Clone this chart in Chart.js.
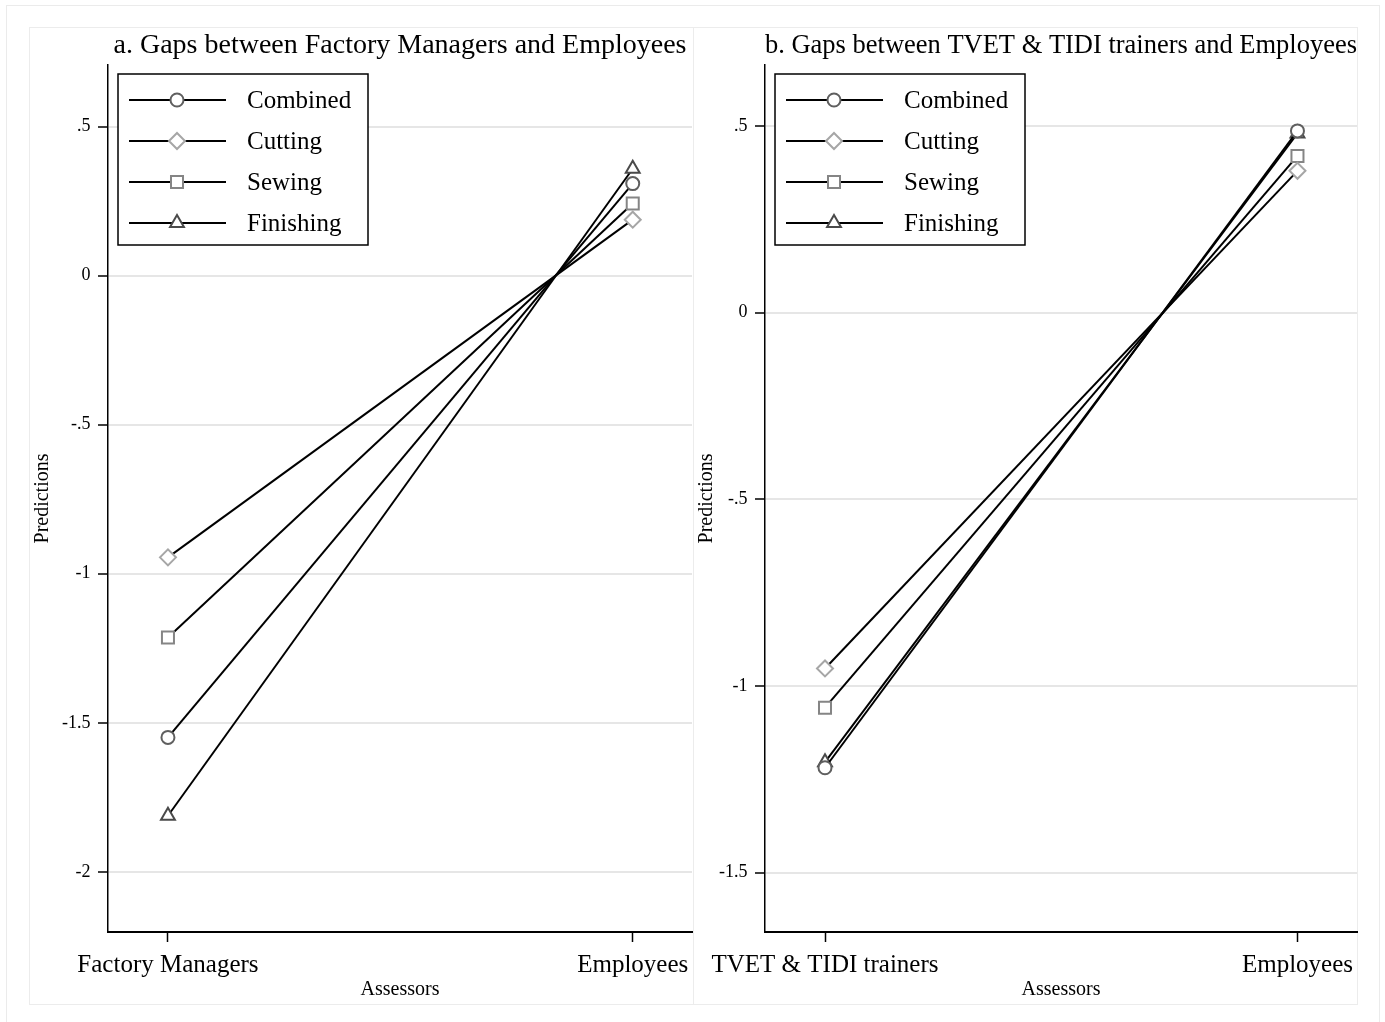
<!DOCTYPE html>
<html><head><meta charset="utf-8">
<script src="https://cdn.jsdelivr.net/npm/chart.js@4"></script>
<style>
html,body{margin:0;padding:0;background:#fff;}
body{width:1385px;height:1022px;position:relative;overflow:hidden;}
#outer{position:absolute;left:6px;top:5px;width:1374px;height:1040px;border:1px solid #ebebeb;box-sizing:border-box;}
.panel{position:absolute;top:27px;height:978px;border:1px solid #ececec;box-sizing:border-box;}
canvas{position:absolute;}
</style></head><body>
<div id="outer"></div>
<div class="panel" style="left:29px;width:665px"></div>
<div class="panel" style="left:693px;width:665px"></div>
<canvas id="ca" style="left:29px;top:27px;width:690px;height:976px" width="690" height="976"></canvas>
<canvas id="cb" style="left:693px;top:27px;width:692px;height:976px" width="692" height="976"></canvas>
<script>
const seriesNames = ['Combined','Cutting','Sewing','Finishing'];
const panelAGroups = ['Factory Managers','Employees'];
const panelBGroups = ['TVET & TIDI trainers','Employees'];
const panelAFirst = [-1.549,-0.945,-1.214,-1.812];
const panelAEmployees = [0.309,0.188,0.242,0.359];
const panelBFirst = [-1.219,-0.953,-1.058,-1.204];
const panelBEmployees = [0.487,0.380,0.420,0.480];
const yTicksA = [0.5,0,-0.5,-1,-1.5,-2];
const yTicksB = [0.5,0,-0.5,-1,-1.5];

const markerStyles = ['circle','rectRot','rect','triangle'];
const markerColors = ['#5f5f5f','#a6a6a6','#858585','#4a4a4a'];
const markerRadii = [6.5,8,8.5,8];
const FONT = '"Liberation Serif", "Times New Roman", serif';

function fmt(v){
  if (v === 0) return '0';
  return (v < 0 ? '-' : '') + String(Math.abs(v)).replace(/^0\./, '.');
}

function drawMarker(ctx, style, r, x, y){
  if (Chart.helpers && Chart.helpers.drawPoint){
    Chart.helpers.drawPoint(ctx, {pointStyle: style, radius: r, borderWidth: 2, rotation: 0}, x, y);
    return;
  }
  ctx.beginPath();
  if (style === 'circle') ctx.arc(x, y, r, 0, Math.PI*2);
  else if (style === 'rect'){ const s = r*Math.SQRT1_2; ctx.rect(x-s, y-s, 2*s, 2*s); }
  else if (style === 'rectRot'){ ctx.moveTo(x, y-r); ctx.lineTo(x+r, y); ctx.lineTo(x, y+r); ctx.lineTo(x-r, y); ctx.closePath(); }
  else { ctx.moveTo(x, y-r); ctx.lineTo(x+r*0.866, y+r/2); ctx.lineTo(x-r*0.866, y+r/2); ctx.closePath(); }
  ctx.fill(); ctx.stroke();
}

const boxLegend = {
  id: 'boxLegend',
  afterDraw(chart){
    const ctx = chart.ctx, a = chart.chartArea;
    const bx = a.left + 10, by = a.top + 9, bw = 250, bh = 171;
    ctx.save();
    ctx.fillStyle = '#fff'; ctx.fillRect(bx, by, bw, bh);
    ctx.strokeStyle = '#000'; ctx.lineWidth = 1.5; ctx.strokeRect(bx, by, bw, bh);
    chart.data.datasets.forEach((ds, i) => {
      const y = by + 26 + i*41;
      ctx.beginPath(); ctx.moveTo(bx+11, y); ctx.lineTo(bx+108, y);
      ctx.strokeStyle = '#000'; ctx.lineWidth = 2; ctx.stroke();
      ctx.fillStyle = '#fff'; ctx.strokeStyle = ds.pointBorderColor; ctx.lineWidth = 2;
      drawMarker(ctx, ds.pointStyle, ds.pointRadius, bx+59, y);
      ctx.fillStyle = '#000'; ctx.font = '25px ' + FONT;
      ctx.textBaseline = 'middle'; ctx.textAlign = 'left';
      ctx.fillText(ds.label, bx+129, y + 1);
    });
    ctx.restore();
  }
};

function makeChart(id, groups, first, second, yTicks, yMin, yMax, xMin, xMax, yWidth, padRight, title){
  const datasets = seriesNames.map((n, i) => ({
    label: n,
    data: [{x: 0, y: first[i]}, {x: 1, y: second[i]}],
    borderColor: '#000', borderWidth: 2,
    pointStyle: markerStyles[i], pointRadius: markerRadii[i], pointHoverRadius: markerRadii[i],
    pointBorderColor: markerColors[i], pointBackgroundColor: '#fff', pointBorderWidth: 2,
    fill: false, tension: 0
  }));
  return new Chart(document.getElementById(id), {
    type: 'line',
    data: {datasets},
    options: {
      responsive: false, animation: false, events: [],
      layout: {padding: {left: 0, right: padRight, top: 0, bottom: 0}},
      plugins: {
        legend: {display: false}, tooltip: {enabled: false},
        title: {display: true, text: title, fullSize: false,
          font: {family: FONT, size: 28, weight: 'normal'}, color: '#000',
          padding: {top: 2, bottom: 2.4}}
      },
      scales: {
        x: {
          type: 'linear', min: xMin, max: xMax,
          afterBuildTicks: s => { s.ticks = [{value: 0}, {value: 1}]; },
          afterFit: s => { s.height = 71; s.paddingLeft = 0; s.paddingRight = 0; },
          ticks: {callback: (v, i) => groups[i], font: {family: FONT, size: 25}, color: '#000',
            padding: 8, maxRotation: 0, autoSkip: false},
          grid: {drawOnChartArea: false, drawTicks: true, tickLength: 10, tickColor: '#000', tickWidth: 1.5},
          border: {display: true, color: '#000', width: 2},
          title: {display: true, text: 'Assessors', font: {family: FONT, size: 20}, color: '#000',
            padding: {top: 0, bottom: 1}}
        },
        y: {
          min: yMin, max: yMax,
          afterBuildTicks: s => { s.ticks = yTicks.map(v => ({value: v})); },
          afterFit: s => { s.width = yWidth; s.paddingTop = 0; s.paddingBottom = 0; },
          ticks: {callback: v => fmt(v), font: {family: FONT, size: 18}, color: '#000', padding: 7.5, autoSkip: false},
          grid: {color: '#e6e6e6', lineWidth: 2, drawTicks: true, tickLength: 10, tickColor: '#000', tickWidth: 1.5},
          border: {display: true, color: '#000', width: 1.5},
          title: {display: true, text: 'Predictions', font: {family: FONT, size: 20}, color: '#000',
            padding: {top: 2, bottom: 0}}
        }
      }
    },
    plugins: [boxLegend]
  });
}

makeChart('ca', panelAGroups, panelAFirst, panelAEmployees, yTicksA, -2.202, 0.707, -0.129, 1.1275, 79, 27,
  'a. Gaps between Factory Managers and Employees');
makeChart('cb', panelBGroups, panelBFirst, panelBEmployees, yTicksB, -1.659, 0.6635, -0.127, 1.126, 72, 28,
  'b. Gaps between TVET & TIDI trainers and Employees');
</script>
</body></html>
